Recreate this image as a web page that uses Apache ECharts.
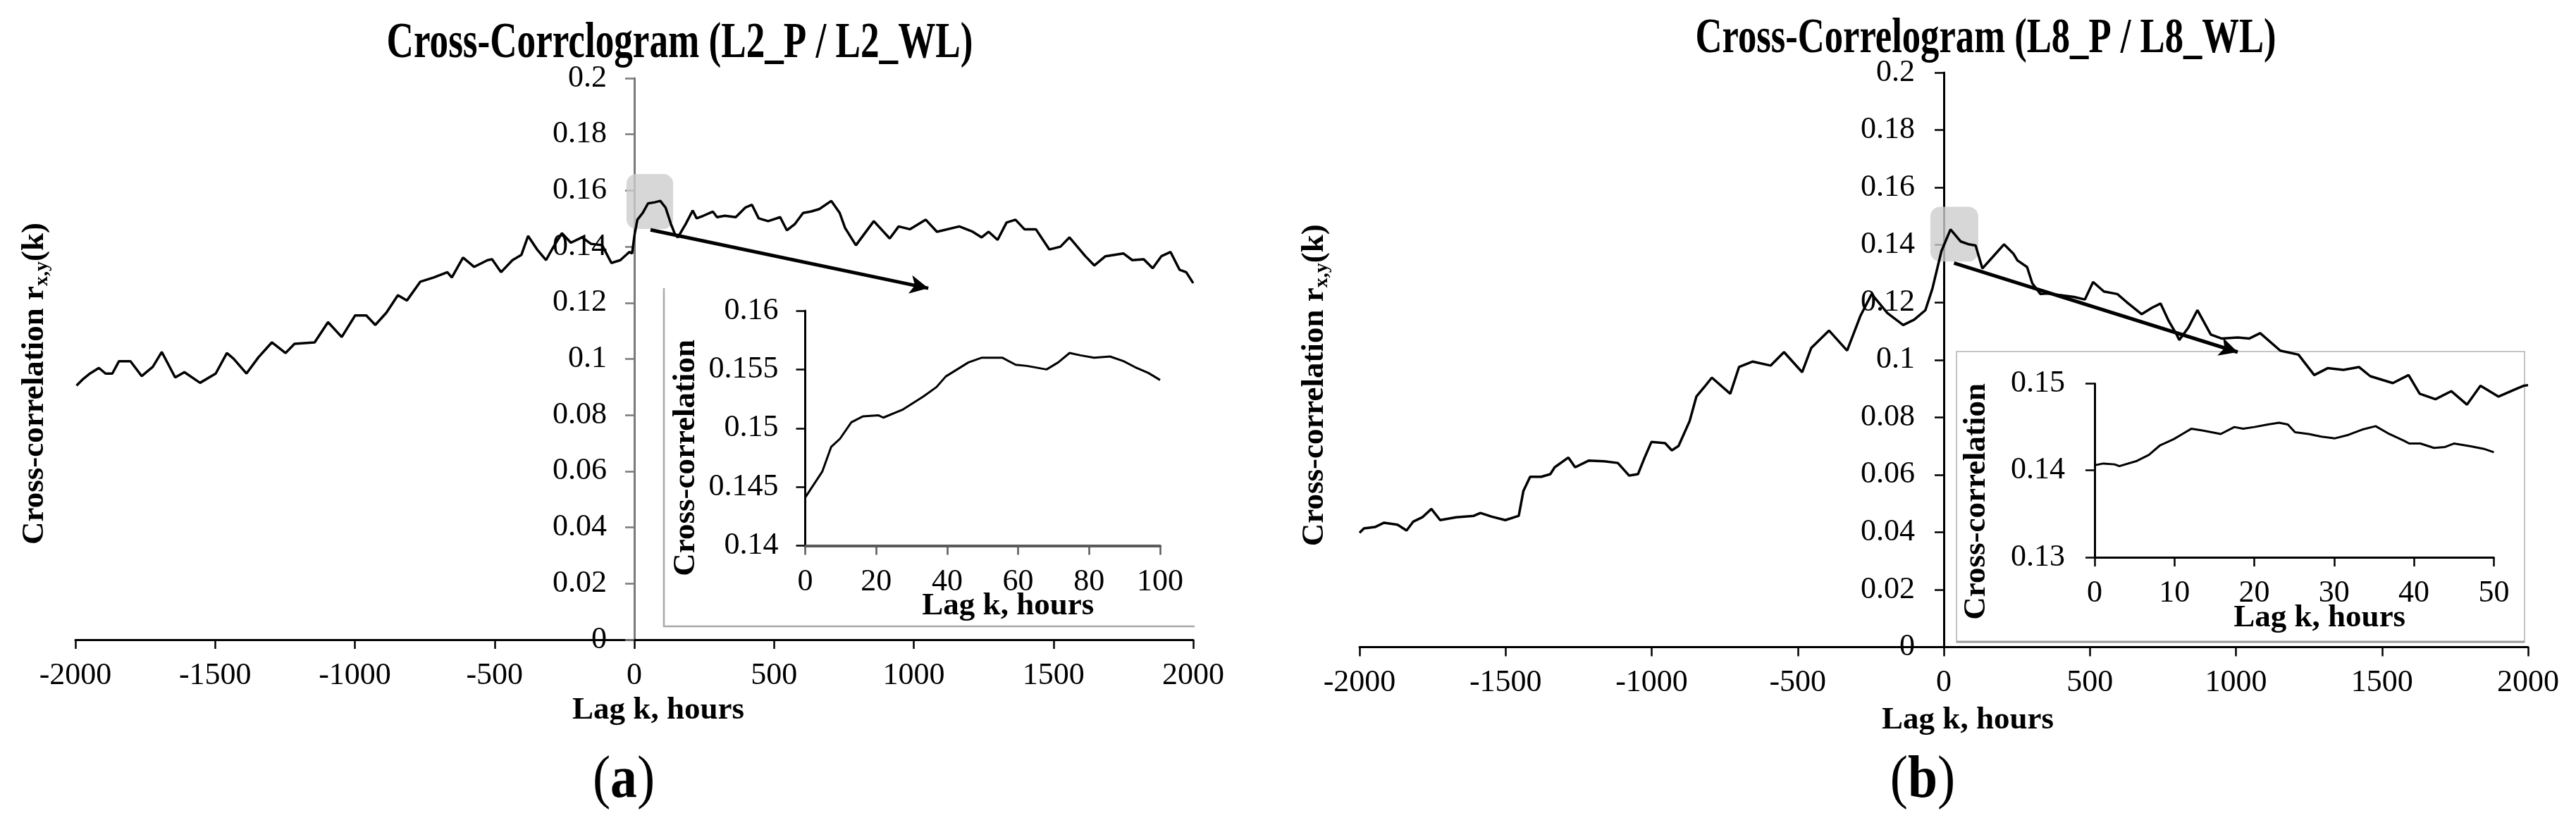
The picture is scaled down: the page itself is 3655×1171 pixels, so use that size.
<!DOCTYPE html>
<html>
<head>
<meta charset="utf-8">
<script src="https://cdn.jsdelivr.net/npm/echarts@6/dist/echarts.min.js"></script>
<style>
html,body{margin:0;padding:0;background:#fff;}
#chart{width:3655px;height:1171px;}
</style>
</head>
<body>
<div id="chart"></div>
<script>
// ---------------- data ----------------
const titleA = 'Cross-Corrclogram (L2_P / L2_WL)';
const titleB = 'Cross-Correlogram (L8_P / L8_WL)';
const panelA = 'a';
const panelB = 'b';
const xNameMain = 'Lag k, hours';
const yNameMain = 'Cross-correlation r{s|x,y}(k)';
const yNameInset = 'Cross-correlation';

// main panel (a): [lag k (hours), cross-correlation]
const curveA = [[-1996,0.0905],[-1972,0.0929],[-1948,0.0948],[-1916,0.0968],[-1892,0.0948],[-1868,0.0948],[-1844,0.0992],[-1803,0.0992],[-1763,0.0939],[-1723,0.0972],[-1691,0.1025],[-1643,0.0934],[-1610,0.0953],[-1554,0.0915],[-1498,0.0948],[-1458,0.1021],[-1434,0.1001],[-1388,0.0948],[-1345,0.1006],[-1297,0.1059],[-1248,0.1021],[-1216,0.1054],[-1144,0.1059],[-1096,0.1131],[-1047,0.1078],[-999,0.1155],[-959,0.1155],[-927,0.1121],[-887,0.1165],[-846,0.1227],[-814,0.1208],[-766,0.1275],[-718,0.1290],[-669,0.1309],[-653,0.1290],[-613,0.1361],[-573,0.1328],[-525,0.1352],[-509,0.1355],[-477,0.1309],[-436,0.1352],[-404,0.1371],[-380,0.1438],[-348,0.1390],[-316,0.1352],[-292,0.1395],[-259,0.1448],[-227,0.1414],[-187,0.1433],[-155,0.1410],[-115,0.1405],[-82,0.1342],[-50,0.1352],[-18,0.1381],[-8,0.1376],[1,0.1443],[11,0.1496],[30,0.1520],[49,0.1554],[73,0.1558],[93,0.1563],[112,0.1539],[131,0.1481],[146,0.1443],[156,0.1433],[184,0.1481],[209,0.1529],[223,0.1501],[247,0.1510],[281,0.1525],[296,0.1505],[324,0.1510],[363,0.1505],[397,0.1539],[421,0.1549],[445,0.1501],[479,0.1491],[522,0.1505],[546,0.1458],[575,0.1481],[604,0.1520],[632,0.1525],[662,0.1534],[705,0.1563],[735,0.1520],[754,0.1467],[793,0.1405],[857,0.1491],[914,0.1429],[946,0.1472],[986,0.1462],[1043,0.1496],[1083,0.1453],[1163,0.1472],[1211,0.1453],[1243,0.1433],[1268,0.1453],[1300,0.1424],[1332,0.1486],[1364,0.1496],[1396,0.1462],[1437,0.1462],[1485,0.1390],[1525,0.1400],[1557,0.1433],[1581,0.1405],[1614,0.1366],[1646,0.1333],[1686,0.1366],[1750,0.1376],[1782,0.1352],[1823,0.1355],[1855,0.1323],[1886,0.1366],[1919,0.1381],[1951,0.1318],[1975,0.1309],[2000,0.1270]];

// inset panel (a): lag 0-100 h
const insetA = [[0,0.1441],[4.8,0.1463],[7.3,0.1484],[9.8,0.1491],[13,0.1505],[16.2,0.1510],[20.6,0.1511],[22,0.1509],[27.6,0.1516],[33.3,0.1527],[37,0.1535],[39.6,0.1544],[46,0.1556],[49.8,0.1560],[55.5,0.1560],[59.3,0.1554],[62.5,0.1553],[68,0.1550],[71.3,0.1556],[74.5,0.1564],[77.6,0.1562],[81.4,0.1560],[85.9,0.1561],[89.7,0.1557],[92.9,0.1552],[96.7,0.1547],[100,0.1541]];

// main panel (b)
const curveB = [[-2000,0.0398],[-1985,0.0413],[-1947,0.0418],[-1916,0.0433],[-1870,0.0426],[-1839,0.0406],[-1816,0.0437],[-1785,0.0452],[-1754,0.0481],[-1724,0.0442],[-1670,0.0452],[-1609,0.0457],[-1586,0.0467],[-1547,0.0454],[-1501,0.0442],[-1455,0.0457],[-1439,0.0544],[-1416,0.0593],[-1378,0.0593],[-1347,0.0602],[-1332,0.0626],[-1285,0.0660],[-1262,0.0626],[-1216,0.0649],[-1162,0.0647],[-1116,0.0641],[-1077,0.0597],[-1047,0.0602],[-1024,0.0660],[-1001,0.0714],[-954,0.0710],[-931,0.0685],[-908,0.0700],[-870,0.0787],[-847,0.0872],[-820,0.0905],[-794,0.0938],[-731,0.0882],[-701,0.0975],[-654,0.0994],[-593,0.0980],[-547,0.1027],[-485,0.0957],[-454,0.1041],[-393,0.1102],[-331,0.1032],[-285,0.1154],[-247,0.1229],[-193,0.1163],[-139,0.1121],[-101,0.1140],[-63,0.1173],[-39,0.1248],[-8,0.1379],[23,0.1454],[58,0.1412],[86,0.1402],[109,0.1398],[132,0.1318],[169,0.1360],[206,0.1402],[238,0.1370],[252,0.1346],[285,0.1323],[303,0.1266],[331,0.1229],[354,0.1231],[391,0.1226],[446,0.1219],[483,0.1210],[511,0.1271],[548,0.1238],[594,0.1229],[626,0.1201],[677,0.1159],[714,0.1182],[742,0.1196],[770,0.1135],[797,0.1088],[806,0.1069],[837,0.1112],[868,0.1173],[914,0.1088],[952,0.1074],[1006,0.1078],[1045,0.1074],[1083,0.1093],[1152,0.1032],[1214,0.1018],[1268,0.0947],[1314,0.0971],[1368,0.0965],[1421,0.0975],[1460,0.0943],[1537,0.0919],[1591,0.0947],[1629,0.0882],[1683,0.0863],[1737,0.0891],[1791,0.0844],[1837,0.0910],[1899,0.0872],[1953,0.0896],[1986,0.0910],[2000,0.0912]];

// inset panel (b): lag 0-50 h
const insetB = [[0,0.1406],[1.1,0.1408],[2.5,0.1407],[3.1,0.1405],[5.3,0.1411],[6.8,0.1418],[8.2,0.1429],[9.9,0.1436],[11,0.1442],[12.1,0.1448],[13.5,0.1446],[15.8,0.1442],[17.5,0.1450],[18.6,0.1448],[20,0.1450],[21.7,0.1453],[23.1,0.1455],[24.2,0.1453],[25.1,0.1444],[26.8,0.1442],[28.4,0.1439],[30.1,0.1437],[31.8,0.1441],[33.5,0.1447],[35.2,0.1451],[36.9,0.1442],[38.8,0.1434],[39.4,0.1431],[40.8,0.1431],[42.5,0.1426],[43.9,0.1427],[45,0.1431],[47,0.1428],[48.7,0.1425],[50,0.1421]];

// highlighted peak regions [x0, y0, x1, y1] and zoom arrows [[x,y],[x,y]] in data units
const highlightA = [-28, 0.1463, 139, 0.1659];
const arrowA = [[58, 0.1460], [1052, 0.1252]];
const highlightB = [-46, 0.1342, 118, 0.1533];
const arrowB = [[35, 0.1337], [1006, 0.1027]];

// axis ranges / tick steps
const mainX = {min: -2000, max: 2000, step: 500};
const mainY = {min: 0, max: 0.2, step: 0.02};
const insetAX = {min: 0, max: 100, step: 20};
const insetAY = {min: 0.14, max: 0.16, step: 0.005};
const insetBX = {min: 0, max: 50, step: 10};
const insetBY = {min: 0.13, max: 0.15, step: 0.01};

// ---------------- chart ----------------
const FONT = '"Liberation Serif","Times New Roman",serif';
const fmt = v => String(+(+v).toFixed(4));

function axis(o) {
  const col = o.color || '#000';
  return {
    type: 'value', gridIndex: o.grid, min: o.r.min, max: o.r.max, interval: o.r.step,
    offset: o.offset || 0,
    splitLine: {show: false},
    axisLine: {show: true, onZero: false, lineStyle: {color: col, width: o.lw || 3}},
    axisTick: {show: true, inside: false, length: 13, lineStyle: {color: col, width: 2.5}},
    axisLabel: {color: '#000', fontFamily: FONT, fontSize: 44, margin: o.margin, formatter: fmt},
    name: o.name, nameLocation: 'middle', nameGap: o.gap, nameMoveOverlap: false,
    nameTextStyle: Object.assign({color: '#000', fontFamily: FONT, fontSize: 45, fontWeight: 'bold', lineHeight: 45, padding: o.pad}, o.nameStyle || {})
  };
}
const richName = {
  fontFamily: FONT, fontSize: 45, fontWeight: 'bold', color: '#000', lineHeight: 50,
  rich: {s: {fontFamily: FONT, fontSize: 28, fontWeight: 'bold', color: '#000', lineHeight: 30, verticalAlign: 'bottom'}}
};
function zip(a) { return a.map(p => [p[0], p[1]]); }
function highlightSeries(xi, rect) {
  return {
    type: 'custom', xAxisIndex: xi, yAxisIndex: xi, z: 1, silent: true, clip: false,
    data: [rect],
    renderItem: function (params, api) {
      const p0 = api.coord([api.value(0), api.value(3)]);
      const p1 = api.coord([api.value(2), api.value(1)]);
      return {type: 'rect', shape: {x: p0[0], y: p0[1], width: p1[0] - p0[0], height: p1[1] - p0[1], r: 14},
        style: {fill: 'rgba(205,205,205,0.8)'}};
    }
  };
}
function lineSeries(xi, data, w, arrow) {
  const s = {
    type: 'line', xAxisIndex: xi, yAxisIndex: xi, data: zip(data), showSymbol: false, symbol: 'none',
    lineStyle: {color: '#000', width: w}, z: 3, silent: true, animation: false
  };
  if (arrow) {
    s.markLine = {
      silent: true, symbol: ['none', 'arrow'], symbolSize: [20, 26], animation: false,
      label: {show: false}, lineStyle: {color: '#000', width: 5, type: 'solid'},
      data: [[{coord: arrow[0]}, {coord: arrow[1]}]]
    };
  }
  return s;
}

// grids (pixels)
const gA = {left: 107, top: 111, width: 1586, height: 797};
const gAi = {left: 1142.5, top: 441, width: 503.5, height: 333.5};
const gB = {left: 1929, top: 103, width: 1658, height: 815.5};
const gBi = {left: 2972, top: 544.5, width: 566.4, height: 246.5};
// the vertical axis of each main panel stands at lag 0 (middle of the grid)
const offA = -gA.width / 2;
const offB = -gB.width / 2;

const chart = echarts.init(document.getElementById('chart'), null, {renderer: 'canvas'});
chart.setOption({
  animation: false,
  backgroundColor: '#fff',
  grid: [gA, gAi, gB, gBi].map(g => Object.assign({outerBoundsMode: 'none'}, g)),
  xAxis: [
    axis({grid: 0, r: mainX, margin: 29, name: xNameMain, gap: 78, pad: [0, 0, 0, 68]}),
    axis({grid: 1, r: insetAX, margin: 30, name: xNameMain, gap: 63, pad: [0, 0, 0, 72], color: '#5a5a5a', lw: 4}),
    axis({grid: 2, r: mainX, margin: 28.5, name: xNameMain, gap: 81, pad: [0, 0, 0, 68]}),
    axis({grid: 3, r: insetBX, margin: 29, name: xNameMain, gap: 64, pad: [0, 0, 0, 72]})
  ],
  yAxis: [
    axis({grid: 0, r: mainY, margin: 39, name: yNameMain, gap: 826, pad: [0, 70, 0, 0], color: '#7a7a7a', nameStyle: richName, offset: offA}),
    axis({grid: 1, r: insetAY, margin: 38, name: yNameInset, gap: 147, pad: [0, 84, 0, 0]}),
    axis({grid: 2, r: mainY, margin: 41, name: yNameMain, gap: 868, pad: [0, 72, 0, 0], nameStyle: richName, offset: offB}),
    axis({grid: 3, r: insetBY, margin: 42, name: yNameInset, gap: 145, pad: [0, 88, 0, 0]})
  ],
  series: [
    highlightSeries(0, highlightA),
    lineSeries(0, curveA, 3.5, arrowA),
    lineSeries(1, insetA, 3),
    highlightSeries(2, highlightB),
    lineSeries(2, curveB, 3.5, arrowB),
    lineSeries(3, insetB, 3)
  ],
  graphic: [
    // inset frames
    {type: 'polyline', z: 0, silent: true, shape: {points: [[942, 409], [942, 889], [1695, 889]]},
      style: {stroke: '#a8a8a8', lineWidth: 2.5, fill: null}},
    {type: 'rect', z: 0, silent: true, shape: {x: 2776, y: 499, width: 806, height: 412},
      style: {stroke: '#c4c4c4', lineWidth: 2, fill: null}},
    {type: 'line', z: 0, silent: true, shape: {x1: 2776, y1: 911, x2: 3582, y2: 911},
      style: {stroke: '#9a9a9a', lineWidth: 3}},
    // titles (condensed bold serif as in the figure)
    {type: 'text', z: 10, x: 964.5, y: 62, scaleX: 0.738, silent: true,
      style: {text: titleA, font: 'bold 72px ' + FONT, fill: '#000', align: 'center', verticalAlign: 'middle', textAlign: 'center', textVerticalAlign: 'middle'}},
    {type: 'text', z: 10, x: 2817.5, y: 55.5, scaleX: 0.752, silent: true,
      style: {text: titleB, font: 'bold 70px ' + FONT, fill: '#000', align: 'center', verticalAlign: 'middle', textAlign: 'center', textVerticalAlign: 'middle'}},
    // panel letters
    {type: 'text', z: 10, x: 885, y: 1109, scaleX: 0.9, silent: true,
      style: {text: '{p|(}{b|' + panelA + '}{p|)}', align: 'center', verticalAlign: 'middle', textAlign: 'center', textVerticalAlign: 'middle',
        rich: {p: {fontFamily: FONT, fontSize: 84, fill: '#000', color: '#000'}, b: {fontFamily: FONT, fontSize: 84, fontWeight: 'bold', fill: '#000', color: '#000'}}}},
    {type: 'text', z: 10, x: 2728, y: 1109, scaleX: 0.9, silent: true,
      style: {text: '{p|(}{b|' + panelB + '}{p|)}', align: 'center', verticalAlign: 'middle', textAlign: 'center', textVerticalAlign: 'middle',
        rich: {p: {fontFamily: FONT, fontSize: 84, fill: '#000', color: '#000'}, b: {fontFamily: FONT, fontSize: 84, fontWeight: 'bold', fill: '#000', color: '#000'}}}}
  ]
});
</script>
</body>
</html>
